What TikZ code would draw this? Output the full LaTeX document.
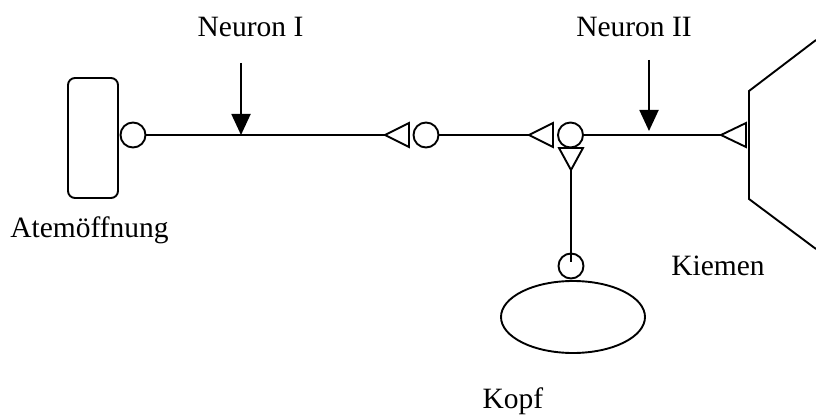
\documentclass[tikz,border=0pt]{standalone}
\usepackage{fontspec}
\setmainfont{Liberation Serif}
\usetikzlibrary{arrows.meta,shapes.geometric,calc}

\begin{document}
\begin{tikzpicture}[x=1pt,y=-1pt,
  wire/.style={line width=1.9pt},
  synapse/.style={circle,draw,line width=1.9pt,minimum size=25pt,inner sep=0pt},
  lbl/.style={font=\fontsize{29.5}{35}\selectfont,anchor=base,inner sep=0pt},
  stim/.style={line width=1.9pt,-{Triangle[length=21pt,width=19pt]}}]
  \useasboundingbox (0,0) rectangle (816,417);

  % organs
  \node[draw,line width=1.9pt,rounded corners=7pt,minimum width=50pt,minimum height=120pt,inner sep=0pt] (atem) at (93,138) {};
  \node[ellipse,draw,line width=1.9pt,minimum width=144pt,minimum height=72pt,inner sep=0pt] (kopf) at (573,317) {};
  \coordinate (kA) at (816,40);
  \coordinate (kB) at (749,91);
  \coordinate (kC) at (749,199);
  \coordinate (kD) at (816,249);
  \draw[wire] (kA) -- (kB) -- (kC) -- (kD);

  % synaptic endings (circles)
  \node[synapse] (c1) at (133,135) {};
  \node[synapse] (c2) at (426,135) {};
  \node[synapse] (c3) at (570.5,135) {};
  \node[synapse] (c4) at (571,266) {};

  % receiving endings (triangles): tip coordinates
  \coordinate (t1) at (385,135);
  \coordinate (t2) at (529,135);
  \coordinate (t3) at (721,135);
  \coordinate (t4) at (571,170);
  \draw[wire] (t1) -- ++(24,-12) -- ++(0,24) -- cycle;
  \draw[wire] (t2) -- ++(24,-12) -- ++(0,24) -- cycle;
  \draw[wire] (t3) -- ++(25,-12) -- ++(0,24) -- cycle;
  \draw[wire] (t4) -- ++(-12,-22) -- ++(24,0) -- cycle;

  % nerve fibres
  \draw[wire] (c1.east) -- (t1);
  \draw[wire] (c2.east) -- (t2);
  \draw[wire] (c3.east) -- (t3);
  \draw[wire] (t4) -- ($(c4.center)+(0,-4)$);

  % stimulation points
  \coordinate (s1) at (241,63);
  \coordinate (e1) at (241,135);
  \coordinate (s2) at (649,60);
  \coordinate (e2) at (649,131);
  \draw[stim] (s1) -- (e1);
  \draw[stim] (s2) -- (e2);

  % labels
  \node[lbl] (n1) at (250.5,37) {Neuron I};
  \node[lbl] (n2) at (634,37) {Neuron II};
  \node[lbl] (la) at (89.5,237) {Atemöffnung};
  \node[lbl] (lk) at (718,275) {Kiemen};
  \node[lbl] (lh) at (513,408) {Kopf};
\end{tikzpicture}
\end{document}
